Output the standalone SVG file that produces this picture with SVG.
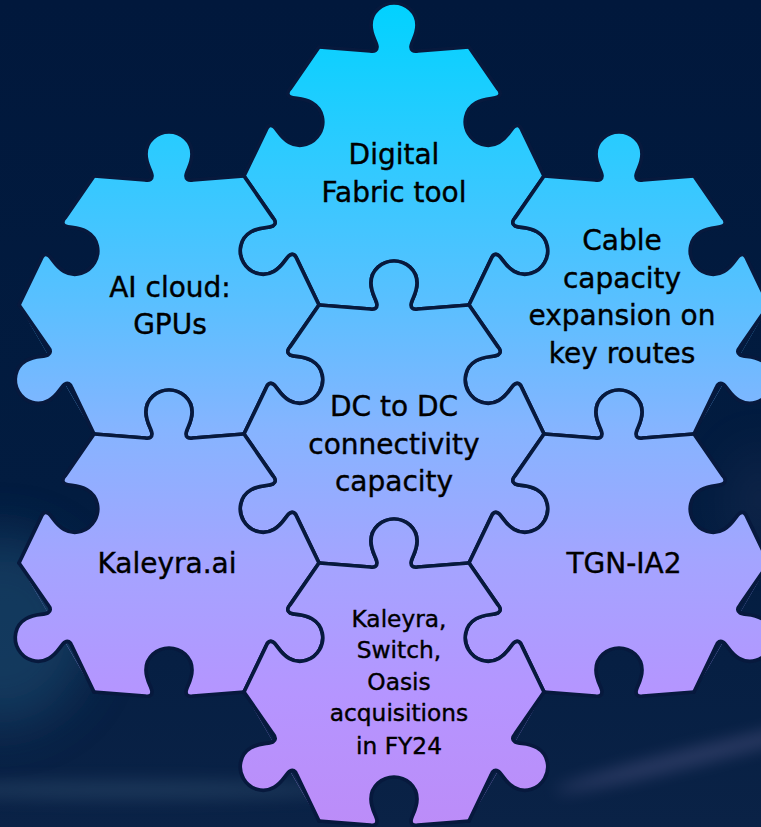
<svg xmlns="http://www.w3.org/2000/svg" xmlns:xlink="http://www.w3.org/1999/xlink" width="761" height="827" viewBox="0 0 761 827">
<style>
.pf{fill:url(#pg)}
.ol{fill:none;stroke:#07193d;stroke-width:3.7;stroke-linecap:round;stroke-linejoin:round}
.t{font-family:"DejaVu Sans","Liberation Sans",sans-serif;font-size:28px;fill:#000;stroke:#000;stroke-width:0.4;text-anchor:middle}
.ts{font-size:23.3px}
</style>
<defs>
<linearGradient id="pg" gradientUnits="userSpaceOnUse" x1="0" y1="0" x2="0" y2="827">
<stop offset="0" stop-color="#00d2ff"/>
<stop offset="0.18" stop-color="#2ccbff"/>
<stop offset="0.36" stop-color="#58c0ff"/>
<stop offset="0.52" stop-color="#86b4ff"/>
<stop offset="0.68" stop-color="#a4a4ff"/>
<stop offset="0.84" stop-color="#b595ff"/>
<stop offset="1" stop-color="#bc8cf8"/>
</linearGradient>
<linearGradient id="bg" x1="0" y1="0" x2="0" y2="1">
<stop offset="0" stop-color="#01183c"/>
<stop offset="0.6" stop-color="#021c40"/>
<stop offset="1" stop-color="#0a2246"/>
</linearGradient>
<filter id="blur" x="-50%" y="-50%" width="200%" height="200%"><feGaussianBlur stdDeviation="25"/></filter>
<filter id="blur2" x="-50%" y="-200%" width="200%" height="500%"><feGaussianBlur stdDeviation="8"/></filter>
<path id="eT" d="M0,0 L51,4 C56,5 58,3 58,0 C58,-5 52,-11 52,-22 C52,-35 63,-44 75,-44 C87,-44 98,-35 98,-22 C98,-11 92,-5 92,0 C92,3 94,5 99,4 L150,0"/>
<path id="eB" d="M0,0 L51,-4 C56,-5 58,-3 58,0 C58,5 52,11 52,22 C52,35 63,44 75,44 C87,44 98,35 98,22 C98,11 92,5 92,0 C92,-3 94,-5 99,-4 L150,0"/>
<g id="mT">
<path fill="#000" d="M0,0 L51,4 C56,5 58,3 58,0 Z M150,0 L99,4 C94,5 92,3 92,0 Z"/>
<path fill="#fff" d="M58,3 L58,0 C58,-5 52,-11 52,-22 C52,-35 63,-44 75,-44 C87,-44 98,-35 98,-22 C98,-11 92,-5 92,0 L92,3 Z"/>
</g>
<g id="mB">
<path fill="#fff" d="M0,0 L51,-4 C56,-5 58,-3 58,0 L58,2 L0,2 Z M150,0 L99,-4 C94,-5 92,-3 92,0 L92,2 L150,2 Z"/>
<path fill="#000" d="M58,-3 L58,0 C58,5 52,11 52,22 C52,35 63,44 75,44 C87,44 98,35 98,22 C98,11 92,5 92,0 L92,-3 Z"/>
</g>

<mask id="m-df" maskUnits="userSpaceOnUse" x="0" y="0" width="761" height="827">
<polygon fill="#fff" points="319,47 469,47 544,176 469,305 319,305 244,176"/>
<use xlink:href="#mT" transform="translate(319,47)"/>
<use xlink:href="#mB" transform="translate(469,47) rotate(59.83) scale(0.9948,1)"/>
<use xlink:href="#mT" transform="translate(544,176) rotate(120.17) scale(0.9948,1)"/>
<use xlink:href="#mB" transform="translate(469,305) rotate(180)"/>
<use xlink:href="#mT" transform="translate(319,305) rotate(239.83) scale(0.9948,1)"/>
<use xlink:href="#mB" transform="translate(244,176) rotate(300.17) scale(0.9948,1)"/>
</mask>
<mask id="m-ai" maskUnits="userSpaceOnUse" x="0" y="0" width="761" height="827">
<polygon fill="#fff" points="94,176 244,176 319,305 244,434 94,434 19,305"/>
<use xlink:href="#mT" transform="translate(94,176)"/>
<use xlink:href="#mB" transform="translate(244,176) rotate(59.83) scale(0.9948,1)"/>
<use xlink:href="#mT" transform="translate(319,305) rotate(120.17) scale(0.9948,1)"/>
<use xlink:href="#mB" transform="translate(244,434) rotate(180)"/>
<use xlink:href="#mT" transform="translate(94,434) rotate(239.83) scale(0.9948,1)"/>
<use xlink:href="#mB" transform="translate(19,305) rotate(300.17) scale(0.9948,1)"/>
</mask>
<mask id="m-cable" maskUnits="userSpaceOnUse" x="0" y="0" width="761" height="827">
<polygon fill="#fff" points="544,176 694,176 769,305 694,434 544,434 469,305"/>
<use xlink:href="#mT" transform="translate(544,176)"/>
<use xlink:href="#mB" transform="translate(694,176) rotate(59.83) scale(0.9948,1)"/>
<use xlink:href="#mT" transform="translate(769,305) rotate(120.17) scale(0.9948,1)"/>
<use xlink:href="#mB" transform="translate(694,434) rotate(180)"/>
<use xlink:href="#mT" transform="translate(544,434) rotate(239.83) scale(0.9948,1)"/>
<use xlink:href="#mB" transform="translate(469,305) rotate(300.17) scale(0.9948,1)"/>
</mask>
<mask id="m-dc" maskUnits="userSpaceOnUse" x="0" y="0" width="761" height="827">
<polygon fill="#fff" points="319,305 469,305 544,434 469,563 319,563 244,434"/>
<use xlink:href="#mT" transform="translate(319,305)"/>
<use xlink:href="#mB" transform="translate(469,305) rotate(59.83) scale(0.9948,1)"/>
<use xlink:href="#mT" transform="translate(544,434) rotate(120.17) scale(0.9948,1)"/>
<use xlink:href="#mB" transform="translate(469,563) rotate(180)"/>
<use xlink:href="#mT" transform="translate(319,563) rotate(239.83) scale(0.9948,1)"/>
<use xlink:href="#mB" transform="translate(244,434) rotate(300.17) scale(0.9948,1)"/>
</mask>
<mask id="m-kal" maskUnits="userSpaceOnUse" x="0" y="0" width="761" height="827">
<polygon fill="#fff" points="94,434 244,434 319,563 244,692 94,692 19,563"/>
<use xlink:href="#mT" transform="translate(94,434)"/>
<use xlink:href="#mB" transform="translate(244,434) rotate(59.83) scale(0.9948,1)"/>
<use xlink:href="#mT" transform="translate(319,563) rotate(120.17) scale(0.9948,1)"/>
<use xlink:href="#mB" transform="translate(244,692) rotate(180)"/>
<use xlink:href="#mT" transform="translate(94,692) rotate(239.83) scale(0.9948,1)"/>
<use xlink:href="#mB" transform="translate(19,563) rotate(300.17) scale(0.9948,1)"/>
</mask>
<mask id="m-tgn" maskUnits="userSpaceOnUse" x="0" y="0" width="761" height="827">
<polygon fill="#fff" points="544,434 694,434 769,563 694,692 544,692 469,563"/>
<use xlink:href="#mT" transform="translate(544,434)"/>
<use xlink:href="#mB" transform="translate(694,434) rotate(59.83) scale(0.9948,1)"/>
<use xlink:href="#mT" transform="translate(769,563) rotate(120.17) scale(0.9948,1)"/>
<use xlink:href="#mB" transform="translate(694,692) rotate(180)"/>
<use xlink:href="#mT" transform="translate(544,692) rotate(239.83) scale(0.9948,1)"/>
<use xlink:href="#mB" transform="translate(469,563) rotate(300.17) scale(0.9948,1)"/>
</mask>
<mask id="m-acq" maskUnits="userSpaceOnUse" x="0" y="0" width="761" height="827">
<polygon fill="#fff" points="319,563 469,563 544,692 469,821 319,821 244,692"/>
<use xlink:href="#mT" transform="translate(319,563)"/>
<use xlink:href="#mB" transform="translate(469,563) rotate(59.83) scale(0.9948,1)"/>
<use xlink:href="#mT" transform="translate(544,692) rotate(120.17) scale(0.9948,1)"/>
<use xlink:href="#mB" transform="translate(469,821) rotate(180)"/>
<use xlink:href="#mT" transform="translate(319,821) rotate(239.83) scale(0.9948,1)"/>
<use xlink:href="#mB" transform="translate(244,692) rotate(300.17) scale(0.9948,1)"/>
</mask>
</defs>

<g id="background">
<rect width="761" height="827" fill="url(#bg)"/>
<ellipse cx="0" cy="630" rx="90" ry="95" fill="#1c4c70" opacity="0.6" filter="url(#blur)"/>
<ellipse cx="130" cy="790" rx="220" ry="10" fill="#4a6a88" opacity="0.28" filter="url(#blur2)"/>
<ellipse cx="700" cy="755" rx="150" ry="8" fill="#7a74a8" opacity="0.33" filter="url(#blur2)" transform="rotate(-14 700 755)"/>
<ellipse cx="760" cy="500" rx="30" ry="50" fill="#4a4a6a" opacity="0.2" filter="url(#blur)"/>
</g>

<g id="piece-digital-fabric">
<rect class="pf" width="761" height="827" mask="url(#m-df)"/>
<g class="ol">
<use xlink:href="#eT" transform="translate(319,47)"/>
<use xlink:href="#eB" transform="translate(469,47) rotate(59.83) scale(0.9948,1)"/>
<use xlink:href="#eT" transform="translate(544,176) rotate(120.17) scale(0.9948,1)"/>
<use xlink:href="#eB" transform="translate(469,305) rotate(180)"/>
<use xlink:href="#eT" transform="translate(319,305) rotate(239.83) scale(0.9948,1)"/>
<use xlink:href="#eB" transform="translate(244,176) rotate(300.17) scale(0.9948,1)"/>
</g>
<text class="t"><tspan x="394" y="164">Digital</tspan><tspan x="394" y="202">Fabric tool</tspan></text>
</g>

<g id="piece-ai-cloud">
<rect class="pf" width="761" height="827" mask="url(#m-ai)"/>
<g class="ol">
<use xlink:href="#eT" transform="translate(94,176)"/>
<use xlink:href="#eB" transform="translate(244,176) rotate(59.83) scale(0.9948,1)"/>
<use xlink:href="#eT" transform="translate(319,305) rotate(120.17) scale(0.9948,1)"/>
<use xlink:href="#eB" transform="translate(244,434) rotate(180)"/>
<use xlink:href="#eT" transform="translate(94,434) rotate(239.83) scale(0.9948,1)"/>
<use xlink:href="#eB" transform="translate(19,305) rotate(300.17) scale(0.9948,1)"/>
</g>
<text class="t"><tspan x="170" y="297">AI cloud:</tspan><tspan x="170" y="334">GPUs</tspan></text>
</g>

<g id="piece-cable-capacity">
<rect class="pf" width="761" height="827" mask="url(#m-cable)"/>
<g class="ol">
<use xlink:href="#eT" transform="translate(544,176)"/>
<use xlink:href="#eB" transform="translate(694,176) rotate(59.83) scale(0.9948,1)"/>
<use xlink:href="#eT" transform="translate(769,305) rotate(120.17) scale(0.9948,1)"/>
<use xlink:href="#eB" transform="translate(694,434) rotate(180)"/>
<use xlink:href="#eT" transform="translate(544,434) rotate(239.83) scale(0.9948,1)"/>
<use xlink:href="#eB" transform="translate(469,305) rotate(300.17) scale(0.9948,1)"/>
</g>
<text class="t"><tspan x="622" y="250">Cable</tspan><tspan x="622" y="288">capacity</tspan><tspan x="622" y="325">expansion on</tspan><tspan x="622" y="363">key routes</tspan></text>
</g>

<g id="piece-dc-to-dc">
<rect class="pf" width="761" height="827" mask="url(#m-dc)"/>
<g class="ol">
<use xlink:href="#eT" transform="translate(319,305)"/>
<use xlink:href="#eB" transform="translate(469,305) rotate(59.83) scale(0.9948,1)"/>
<use xlink:href="#eT" transform="translate(544,434) rotate(120.17) scale(0.9948,1)"/>
<use xlink:href="#eB" transform="translate(469,563) rotate(180)"/>
<use xlink:href="#eT" transform="translate(319,563) rotate(239.83) scale(0.9948,1)"/>
<use xlink:href="#eB" transform="translate(244,434) rotate(300.17) scale(0.9948,1)"/>
</g>
<text class="t"><tspan x="394" y="416">DC to DC</tspan><tspan x="394" y="454">connectivity</tspan><tspan x="394" y="491">capacity</tspan></text>
</g>

<g id="piece-kaleyra-ai">
<rect class="pf" width="761" height="827" mask="url(#m-kal)"/>
<g class="ol">
<use xlink:href="#eT" transform="translate(94,434)"/>
<use xlink:href="#eB" transform="translate(244,434) rotate(59.83) scale(0.9948,1)"/>
<use xlink:href="#eT" transform="translate(319,563) rotate(120.17) scale(0.9948,1)"/>
<use xlink:href="#eB" transform="translate(244,692) rotate(180)"/>
<use xlink:href="#eT" transform="translate(94,692) rotate(239.83) scale(0.9948,1)"/>
<use xlink:href="#eB" transform="translate(19,563) rotate(300.17) scale(0.9948,1)"/>
</g>
<text class="t" x="167" y="573">Kaleyra.ai</text>
</g>

<g id="piece-tgn-ia2">
<rect class="pf" width="761" height="827" mask="url(#m-tgn)"/>
<g class="ol">
<use xlink:href="#eT" transform="translate(544,434)"/>
<use xlink:href="#eB" transform="translate(694,434) rotate(59.83) scale(0.9948,1)"/>
<use xlink:href="#eT" transform="translate(769,563) rotate(120.17) scale(0.9948,1)"/>
<use xlink:href="#eB" transform="translate(694,692) rotate(180)"/>
<use xlink:href="#eT" transform="translate(544,692) rotate(239.83) scale(0.9948,1)"/>
<use xlink:href="#eB" transform="translate(469,563) rotate(300.17) scale(0.9948,1)"/>
</g>
<text class="t" x="624" y="573">TGN-IA2</text>
</g>

<g id="piece-acquisitions">
<rect class="pf" width="761" height="827" mask="url(#m-acq)"/>
<g class="ol">
<use xlink:href="#eT" transform="translate(319,563)"/>
<use xlink:href="#eB" transform="translate(469,563) rotate(59.83) scale(0.9948,1)"/>
<use xlink:href="#eT" transform="translate(544,692) rotate(120.17) scale(0.9948,1)"/>
<use xlink:href="#eB" transform="translate(469,821) rotate(180)"/>
<use xlink:href="#eT" transform="translate(319,821) rotate(239.83) scale(0.9948,1)"/>
<use xlink:href="#eB" transform="translate(244,692) rotate(300.17) scale(0.9948,1)"/>
</g>
<text class="t ts"><tspan x="399" y="627">Kaleyra,</tspan><tspan x="399" y="658">Switch,</tspan><tspan x="399" y="690">Oasis</tspan><tspan x="399" y="721">acquisitions</tspan><tspan x="399" y="754">in FY24</tspan></text>
</g>
</svg>
